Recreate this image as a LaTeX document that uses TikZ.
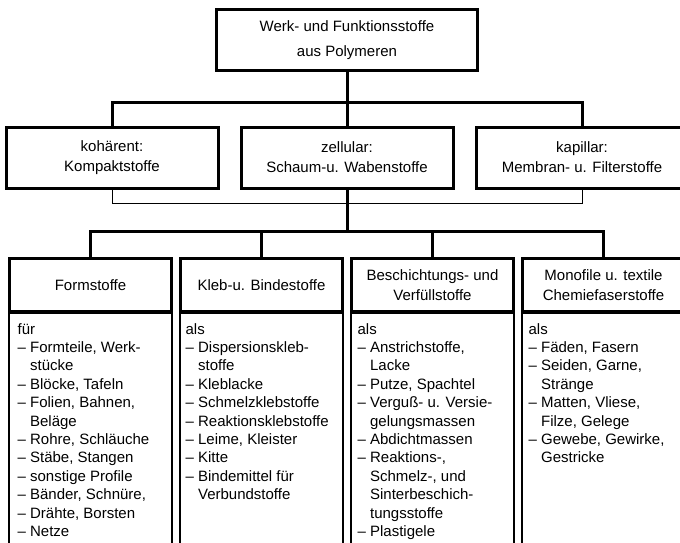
\documentclass[tikz,border=0pt]{standalone}
\usepackage{fontspec}
\setmainfont{Liberation Sans}
\usetikzlibrary{positioning}

\tikzset{
  box/.style={draw, line width=3pt, align=center, inner sep=0pt, font=\fontsize{15}{20}\selectfont},
  topbox/.style={box, minimum width=261pt, minimum height=61pt, font=\fontsize{15}{25}\selectfont},
  kindbox/.style={box, minimum width=212pt, minimum height=61pt},
  groupbox/.style={box, minimum width=162pt, minimum height=53pt},
  listbox/.style={draw, line width=1.2pt, minimum width=163pt, minimum height=260pt, anchor=north},
  listtext/.style={anchor=north west, align=left, inner sep=0pt, font=\fontsize{15}{18.4}\selectfont},
  conn/.style={line width=3pt},
  thinconn/.style={line width=1pt},
}
\newcommand{\cont}{\phantom{– }}

\begin{document}
\begin{tikzpicture}[x=1pt, y=-1pt, node distance=20pt]
\clip (0,0) rectangle (680,543);
\fill[white] (0,0) rectangle (680,543);
% top
\node[topbox] (werk) at (347,40) {Werk- und Funktionsstoffe\\aus Polymeren};
% kinds
\node[kindbox] (zell) at (347,157.5) {zellular:\\Schaum-u. Wabenstoffe};
\node[kindbox, left=of zell] (koh) {kohärent:\\Kompaktstoffe};
\node[kindbox, right=of zell] (kap) {kapillar:\\Membran- u. Filterstoffe};
% groups
\node[groupbox] (form) at (90.5,285) {Formstoffe};
\node[groupbox, right=6pt of form] (kleb) {Kleb-u. Bindestoffe};
\node[groupbox, right=6pt of kleb] (besch) {Beschichtungs- und\\Verfüllstoffe};
\node[groupbox, right=6pt of besch] (mono) {Monofile u. textile\\Chemiefaserstoffe};
% lists
\node[listbox] (formlist) at (form.south) {};
\node[listbox] (kleblist) at (kleb.south) {};
\node[listbox] (beschlist) at (besch.south) {};
\node[listbox] (monolist) at (mono.south) {};
\node[listtext] (formtext) at ([xshift=9pt, yshift=-10pt]formlist.north west) {für\\
– Formteile, Werk-\\
\cont stücke\\
– Blöcke, Tafeln\\
– Folien, Bahnen,\\
\cont Beläge\\
– Rohre, Schläuche\\
– Stäbe, Stangen\\
– sonstige Profile\\
– Bänder, Schnüre,\\
– Drähte, Borsten\\
– Netze};
\node[listtext] (klebtext) at ([xshift=6pt, yshift=-10pt]kleblist.north west) {als\\
– Dispersionskleb-\\
\cont stoffe\\
– Kleblacke\\
– Schmelzklebstoffe\\
– Reaktionsklebstoffe\\
– Leime, Kleister\\
– Kitte\\
– Bindemittel für\\
\cont Verbundstoffe};
\node[listtext] (beschtext) at ([xshift=7pt, yshift=-10pt]beschlist.north west) {als\\
– Anstrichstoffe,\\
\cont Lacke\\
– Putze, Spachtel\\
– Verguß- u. Versie-\\
\cont gelungsmassen\\
– Abdichtmassen\\
– Reaktions-,\\
\cont Schmelz-, und\\
\cont Sinterbeschich-\\
\cont tungsstoffe\\
– Plastigele};
\node[listtext] (monotext) at ([xshift=7pt, yshift=-10pt]monolist.north west) {als\\
– Fäden, Fasern\\
– Seiden, Garne,\\
\cont Stränge\\
– Matten, Vliese,\\
\cont Filze, Gelege\\
– Gewebe, Gewirke,\\
\cont Gestricke};
% connectors
\coordinate (upbar) at (0,102);
\coordinate (thinbar) at (0,203);
\coordinate (lowbar) at (0,231);
\draw[conn] (werk.south) -- (werk.south |- upbar);
\draw[conn] (koh.north) -- (koh.north |- upbar) -- (kap.north |- upbar) -- (kap.north);
\draw[conn] (zell.north) -- (zell.north |- upbar);
\draw[thinconn] (koh.south) -- (koh.south |- thinbar) -- (kap.south |- thinbar) -- (kap.south);
\draw[conn] (zell.south) -- (zell.south |- lowbar);
\draw[conn] (form.north) -- (form.north |- lowbar) -- (mono.north |- lowbar) -- (mono.north);
\draw[conn] (kleb.north) -- (kleb.north |- lowbar);
\draw[conn] (besch.north) -- (besch.north |- lowbar);
\end{tikzpicture}
\end{document}
